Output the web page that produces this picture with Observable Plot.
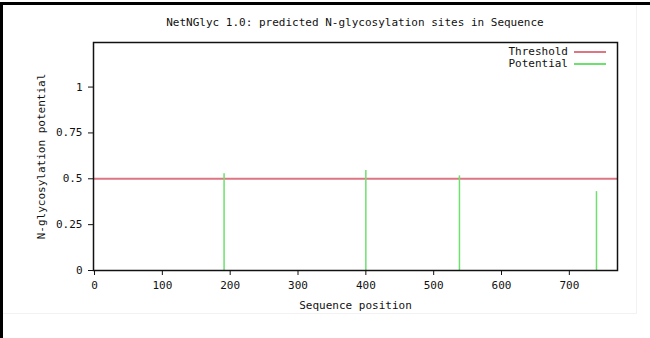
<!DOCTYPE html>
<html>
<head>
<meta charset="utf-8">
<script src="https://cdn.jsdelivr.net/npm/d3@7"></script>
<script src="https://cdn.jsdelivr.net/npm/@observablehq/plot@0.6"></script>
<style>
  html, body { margin: 0; padding: 0; background: #fff; }
  body { width: 650px; height: 338px; position: relative; overflow: hidden; font-family: "DejaVu Sans Mono", monospace; }
  #frameTop { position: absolute; left: 0; top: 2px; width: 650px; height: 3px; background: #000; }
  #frameLeft { position: absolute; left: 0; top: 2px; width: 3px; height: 336px; background: #000; }
  #imgEdgeR { position: absolute; left: 636px; top: 5px; width: 1px; height: 308px; background: #f2f2f2; }
  #imgEdgeB { position: absolute; left: 3px; top: 313px; width: 634px; height: 1px; background: #f2f2f2; }
  #chart { position: absolute; left: 0; top: 0; }
  #title { position: absolute; left: 0; width: 710px; top: 16px; text-align: center; font-size: 11px; color: #111; white-space: pre; }
  .leg { position: absolute; font-size: 11px; color: #111; display: flex; align-items: center; }
  .leg span.sw { display: inline-block; width: 32px; height: 2px; margin-left: 6px; }
</style>
</head>
<body>
<div id="frameTop"></div>
<div id="frameLeft"></div>
<div id="imgEdgeR"></div>
<div id="imgEdgeB"></div>
<div id="chart"></div>
<div id="title"></div>
<div class="leg" id="leg1" style="right:44px; top:45px;"></div>
<div class="leg" id="leg2" style="right:44px; top:57px;"></div>
<script>
const titleText = "NetNGlyc 1.0: predicted N-glycosylation sites in Sequence";
const xLabel = "Sequence position";
const yLabel = "N-glycosylation potential";
const seriesNames = ["Threshold", "Potential"];
const seriesColors = ["#dd7583", "#6ee06e"];
const positions = [191, 400, 538, 740];
const potentials = [0.527, 0.545, 0.516, 0.43];
const threshold = 0.5;
const xTicks = [0, 100, 200, 300, 400, 500, 600, 700];
const yTicks = [0, 0.25, 0.5, 0.75, 1];
const xDomain = [-1.5, 771];
const yDomain = [0, 1.243];

const sites = positions.map((p, i) => ({pos: p, pot: potentials[i]}));

document.getElementById("title").textContent = titleText;
document.getElementById("leg1").innerHTML = seriesNames[0] + '<span class="sw" style="background:' + seriesColors[0] + '"></span>';
document.getElementById("leg2").innerHTML = seriesNames[1] + '<span class="sw" style="background:' + seriesColors[1] + '"></span>';

const chart = Plot.plot({
  width: 650,
  height: 338,
  marginLeft: 93,
  marginRight: 33,
  marginTop: 42,
  marginBottom: 68,
  style: {fontFamily: "DejaVu Sans Mono, monospace", fontSize: "11px", color: "#111", background: "transparent"},
  x: {domain: xDomain},
  y: {domain: yDomain},
  marks: [
    Plot.ruleY([threshold], {stroke: seriesColors[0], strokeWidth: 2}),
    Plot.ruleX(sites, {x: "pos", y1: 0, y2: "pot", stroke: seriesColors[1], strokeWidth: 1.5}),
    Plot.frame({stroke: "#111", strokeWidth: 1.5}),
    Plot.axisX({ticks: xTicks, tickFormat: d => String(d), tickSize: 5, tickPadding: 6, label: xLabel, labelAnchor: "center", labelArrow: "none", labelOffset: 38, stroke: "#111"}),
    Plot.axisY({ticks: yTicks, tickFormat: d => String(d), tickSize: 5, tickPadding: 6, label: yLabel, labelAnchor: "center", labelArrow: "none", labelOffset: 56, stroke: "#111"})
  ]
});
document.getElementById("chart").appendChild(chart);
</script>
</body>
</html>
